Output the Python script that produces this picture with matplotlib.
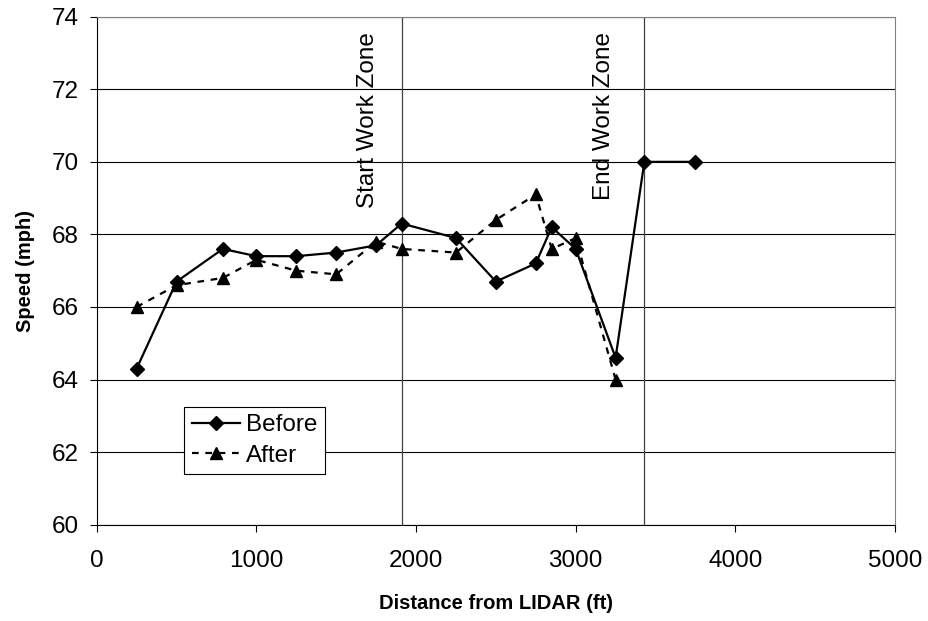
import matplotlib
matplotlib.use("Agg")
import matplotlib.pyplot as plt

plt.rcParams['font.family'] = ['Liberation Sans', 'DejaVu Sans']

before_x = [250, 500, 790, 1000, 1250, 1500, 1750, 1910, 2250, 2500, 2750, 2850, 3000, 3250, 3430, 3750]
before_y = [64.3, 66.7, 67.6, 67.4, 67.4, 67.5, 67.7, 68.3, 67.9, 66.7, 67.2, 68.2, 67.6, 64.6, 70.0, 70.0]
after_x = [250, 500, 790, 1000, 1250, 1500, 1750, 1910, 2250, 2500, 2750, 2850, 3000, 3250]
after_y = [66.0, 66.6, 66.8, 67.3, 67.0, 66.9, 67.8, 67.6, 67.5, 68.4, 69.1, 67.6, 67.9, 64.0]
zone_x = [1910, 3430]
zone_labels = ["Start Work Zone", "End Work Zone"]
x_ticks = [0, 1000, 2000, 3000, 4000, 5000]
y_ticks = [60, 62, 64, 66, 68, 70, 72, 74]

fig = plt.figure(figsize=(9.29, 6.21), dpi=100)
ax = fig.add_axes([0.1041, 0.1551, 0.8593, 0.818])

for yv in y_ticks:
    ax.axhline(yv, color='black', lw=0.8, zorder=1)
label_offsets = [210, 255]
for zx, lab, off in zip(zone_x, zone_labels, label_offsets):
    ax.axvline(zx, color='#404040', lw=0.9, zorder=1)
    ax.text(zx - off, 73.58, lab, rotation=90, ha='center', va='top', fontsize=17.5)

ax.plot(before_x, before_y, color='black', lw=1.6, marker='D', markersize=7, label='Before', zorder=3)
ax.plot(after_x, after_y, color='black', lw=1.6, linestyle=(0, (3, 3)), marker='^', markersize=8.5, label='After', zorder=3)

ax.set_xlim(0, 5000)
ax.set_ylim(60, 74)
ax.set_xticks(x_ticks)
ax.set_yticks(y_ticks)
ax.tick_params(axis='both', labelsize=17.5, direction='out', length=5, width=0.8, color='black')
ax.tick_params(axis='x', pad=13)
ax.tick_params(axis='y', pad=8)
ax.set_xlabel('Distance from LIDAR (ft)', fontsize=14.5, fontweight='bold', labelpad=16)
ax.set_ylabel('Speed (mph)', fontsize=14.5, fontweight='bold', labelpad=12)

for s in ['top', 'right']:
    ax.spines[s].set_color('#808080')
    ax.spines[s].set_linewidth(0.8)
for s in ['left', 'bottom']:
    ax.spines[s].set_color('black')
    ax.spines[s].set_linewidth(0.8)

leg = ax.legend(loc='lower left', bbox_to_anchor=(0.1097, 0.0998), fontsize=17.5, frameon=True,
                fancybox=False, edgecolor='black', framealpha=1, handlelength=2.0,
                borderpad=0.3, labelspacing=0.35, handletextpad=0.25, borderaxespad=0)
leg.get_frame().set_linewidth(0.8)
leg.set_zorder(5)

fig.savefig('out.png', dpi=100, facecolor='white')
